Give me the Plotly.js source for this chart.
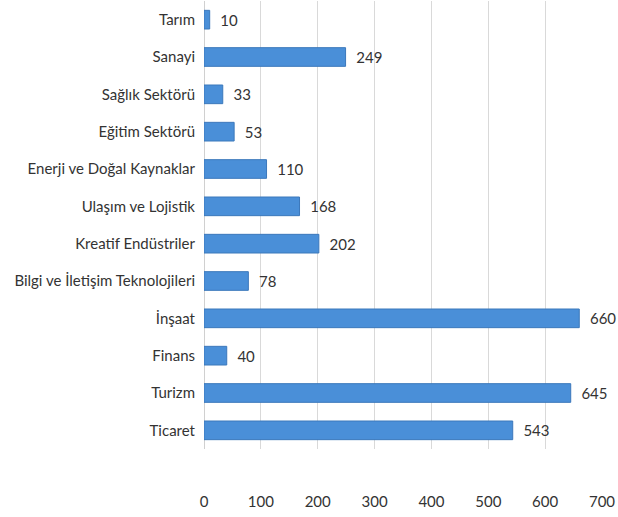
<!DOCTYPE html>
<html>
<head>
<meta charset="utf-8">
<script src="https://cdn.plot.ly/plotly-3.0.1.min.js"></script>
<style>html,body{margin:0;padding:0;background:#fff;}#chart{width:618px;height:517px;}</style>
</head>
<body>
<div id="chart"></div>
<script>
var categories = ["Tarım","Sanayi","Sağlık Sektörü","Eğitim Sektörü","Enerji ve Doğal Kaynaklar","Ulaşım ve Lojistik","Kreatif Endüstriler","Bilgi ve İletişim Teknolojileri","İnşaat","Finans","Turizm","Ticaret"];
var values = [10,249,33,53,110,168,202,78,660,40,645,543];
var xTicks = [0,100,200,300,400,500,600,700];

var trace = {
  type: "bar",
  orientation: "h",
  y: categories,
  x: values,
  texttemplate: "\u00a0\u00a0%{x}",
  textposition: "outside",
  cliponaxis: false,
  textfont: {family: "Lato, 'Open Sans', sans-serif", size: 15, color: "#333333"},
  marker: {color: "#4a8fd8", line: {color: "#3b78bb", width: 1}},
  hoverinfo: "none"
};

var layout = {
  width: 618, height: 517,
  margin: {l: 204, r: 16, t: 1, b: 68},
  paper_bgcolor: "#ffffff",
  plot_bgcolor: "#ffffff",
  showlegend: false,
  bargap: 0.5,
  font: {family: "Lato, 'Open Sans', sans-serif", size: 15, color: "#333333"},
  xaxis: {
    range: [0, 700],
    tickvals: xTicks,
    ticktext: xTicks.map(String),
    showgrid: true,
    gridcolor: "#d9d9d9",
    gridwidth: 1,
    zeroline: true,
    zerolinecolor: "#d0d0d0",
    zerolinewidth: 1,
    showline: false,
    ticks: "",
    ticklabelstandoff: 42,
    tickfont: {size: 15, color: "#333333"},
    fixedrange: true
  },
  yaxis: {
    autorange: "reversed",
    showgrid: false,
    zeroline: false,
    showline: false,
    ticks: "",
    ticklabelstandoff: 8,
    tickfont: {size: 15, color: "#333333"},
    fixedrange: true
  }
};

Plotly.newPlot("chart", [trace], layout, {displayModeBar: false, staticPlot: true});
</script>
</body>
</html>
